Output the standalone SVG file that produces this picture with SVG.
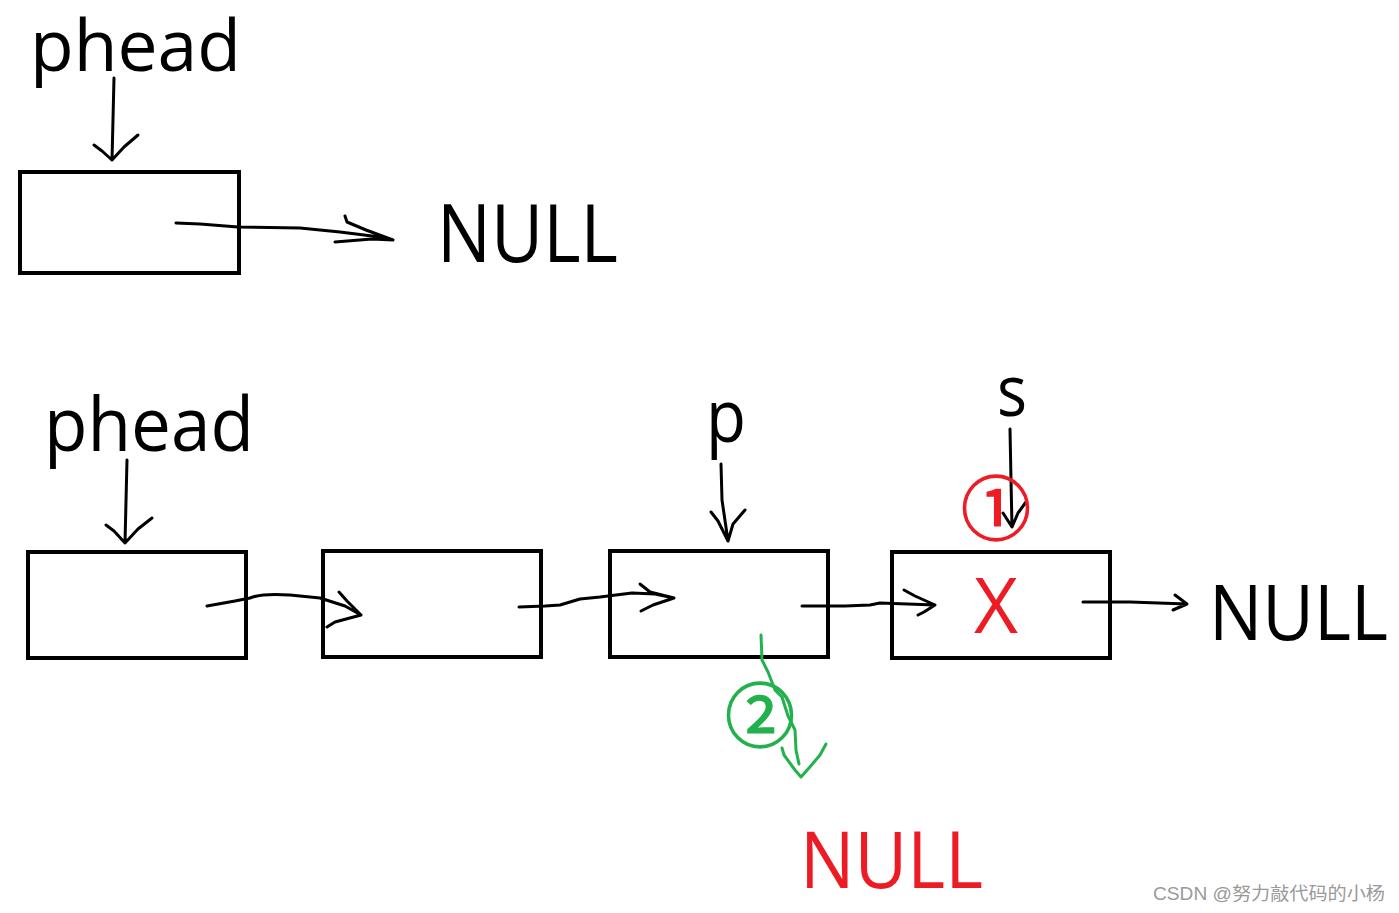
<svg xmlns="http://www.w3.org/2000/svg" width="1399" height="913" viewBox="0 0 1399 913">
<style>
.lbl{font-family:"Open Sans","Noto Sans","Liberation Sans",sans-serif;fill:#000}
.red{fill:#ed1c24}
.box{fill:none;stroke:#000;stroke-width:4}
.ink{fill:none;stroke:#000;stroke-width:3;stroke-linecap:round;stroke-linejoin:round}
.grn{fill:none;stroke:#22b14c;stroke-width:3;stroke-linecap:round;stroke-linejoin:round}
.circ{font-family:"Noto Sans CJK SC","Noto Sans",sans-serif;stroke-width:1.3}
</style>
<rect width="1399" height="913" fill="#fff"/>

<g id="top-phead"><text class="lbl" x="30" y="71" font-size="72" textLength="211" lengthAdjust="spacingAndGlyphs">phead</text></g>
<g id="top-node"><rect class="box" x="20" y="172" width="219" height="101"/></g>
<g id="top-null"><text class="lbl" x="437" y="262" font-size="80" textLength="181" lengthAdjust="spacingAndGlyphs">NULL</text></g>

<g id="phead"><text class="lbl" x="44" y="451" font-size="75" textLength="210" lengthAdjust="spacingAndGlyphs">phead</text></g>
<g id="node1"><rect class="box" x="28" y="552" width="218" height="106"/></g>
<g id="node2"><rect class="box" x="323" y="551" width="218" height="106"/></g>
<g id="node3"><rect class="box" x="610" y="551" width="218" height="106"/></g>
<g id="node4"><rect class="box" x="892" y="552" width="218" height="106"/>
<text class="lbl red" x="974" y="633" font-size="77" textLength="44" lengthAdjust="spacingAndGlyphs">X</text></g>
<g id="p-label"><text class="lbl" x="706" y="442" font-size="73" textLength="40" lengthAdjust="spacingAndGlyphs">p</text></g>
<g id="s-label"><text class="lbl" x="997" y="416" font-size="72" textLength="30" lengthAdjust="spacingAndGlyphs">s</text></g>
<g id="null-right"><text class="lbl" x="1209" y="640" font-size="76" textLength="179" lengthAdjust="spacingAndGlyphs">NULL</text></g>
<g id="null-bottom"><text class="lbl red" x="800" y="888" font-size="78" textLength="183" lengthAdjust="spacingAndGlyphs">NULL</text></g>

<g id="connectors">
<path class="ink" d="M114 78 L112 160 M94 145 L102 151 L112 160 L124 147 L138 135"/>
<path class="ink" d="M176 223 L200 224 L238 227 L300 228 L340 232 L372 236 L393 240 M345 216 L347 222 L366 230 L393 240 M335 242 L372 239 L393 240"/>
<path class="ink" d="M127 460 L125 543 M106 525 L114 531 L125 543 L138 529 L152 518"/>
<path class="ink" d="M207 606 L235 601 L250 598 Q262 593 290 595 L320 598 L345 606 L361 615 M339 592 L347 601 L361 615 M327 627 L335 622 L361 615"/>
<path class="ink" d="M519 607 L545 606 L560 605 L580 599 L600 597 L632 593 L655 594 L674 598 M640 584 L650 592 L674 598 M641 611 L653 605 L674 598"/>
<path class="ink" d="M802 606 L845 606 L870 605 L880 603 L935 605 M904 590 L915 596 L935 605 M918 615 L924 612 L935 605"/>
<path class="ink" d="M1083 602 L1130 602 L1187 604 M1175 595 L1187 604 L1173 610"/>
<path class="ink" d="M721 464 L722 500 L728 541 M711 512 L718 521 L728 541 L733 524 L745 510"/>
<path class="ink" d="M1010 429 L1011 480 L1012 527 M1003 513 L1012 527 L1018 513 L1026 502"/>
<path class="grn" d="M761 635 L762 660 L768 672 L775 690 L782 697 L788 716 L795 730 L796 750 L799 764 M782 748 L784 755 L795 770 L801 777 L809 768 L820 755 L826 744"/>
</g>

<g id="badge1"><text class="circ" x="996" y="504" font-size="70" text-anchor="middle" dominant-baseline="central" fill="#ed1c24" stroke="#ed1c24">①</text></g>
<g id="badge2"><text class="circ" x="760" y="711" font-size="70" text-anchor="middle" dominant-baseline="central" fill="#22b14c" stroke="#22b14c">②</text></g>

<g id="watermark"><text x="1153" y="900" font-family="Liberation Sans,Noto Sans CJK SC,sans-serif" font-size="18" fill="#9a9a9a" textLength="232" lengthAdjust="spacingAndGlyphs">CSDN @努力敲代码的小杨</text></g>
</svg>
